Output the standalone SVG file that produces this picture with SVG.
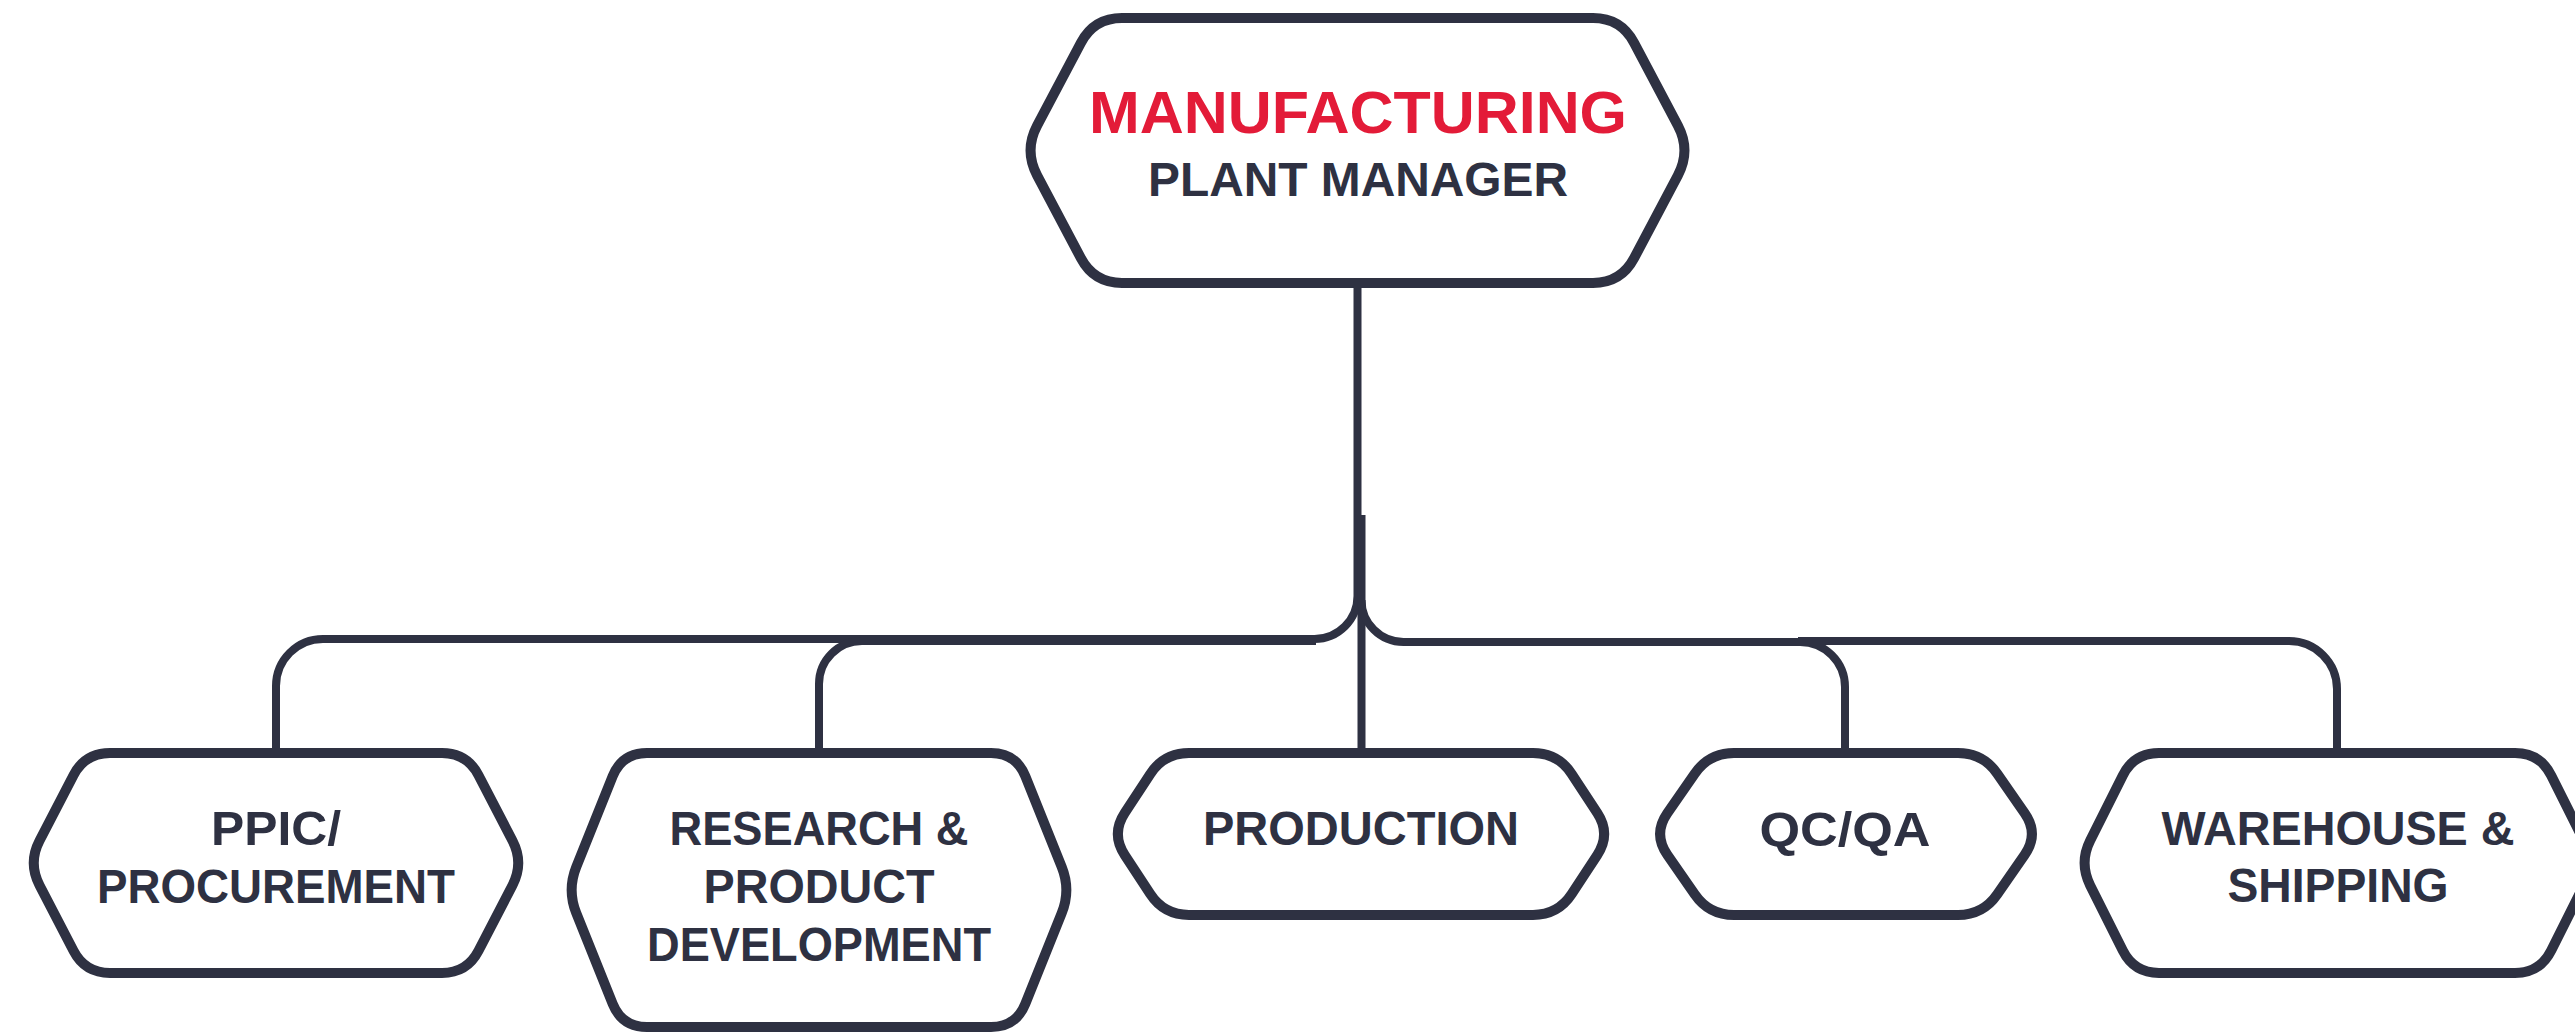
<svg xmlns="http://www.w3.org/2000/svg" width="2575" height="1032" viewBox="0 0 2575 1032">
<style>
.node{fill:#ffffff;stroke:#2E3142;stroke-width:10;stroke-linejoin:round}
.conn{fill:none;stroke:#2E3142;stroke-width:8}
.t{font-family:"Liberation Sans",Arial,sans-serif;font-weight:700;fill:#2E3142;text-anchor:middle}
.lbl{font-size:48px}
.red{fill:#E31B38;font-size:60px}
</style>
<rect x="0" y="0" width="2575" height="1032" fill="#ffffff"/>
<g id="connectors">
<path class="conn" d="M 1357.5 284 V 596 A 43 43 0 0 1 1314.5 639 H 323 A 47 47 0 0 0 276 686 V 753"/>
<path class="conn" d="M 1316 641 H 862 A 43 43 0 0 0 819 684 V 753"/>
<path class="conn" d="M 1361.5 515 V 753"/>
<path class="conn" d="M 1361.5 600 A 42 42 0 0 0 1403.5 642 H 1800 A 45 45 0 0 1 1845 687 V 753"/>
<path class="conn" d="M 1798 641 H 2289 A 48 48 0 0 1 2337 689 V 753"/>
</g>
<g id="node-plant-manager">
<path class="node" d="M 1122 18 H 1593 Q 1621 18 1634.1 42.8 L 1677.9 125.7 Q 1691 150.5 1677.9 175.3 L 1634.1 258.2 Q 1621 283 1593 283 H 1122 Q 1094 283 1080.9 258.2 L 1037.1 175.3 Q 1024 150.5 1037.1 125.7 L 1080.9 42.8 Q 1094 18 1122 18 Z"/>
<text class="t red" x="1358" y="133" textLength="538" lengthAdjust="spacingAndGlyphs">MANUFACTURING</text>
<text class="t lbl" x="1358" y="196" textLength="420" lengthAdjust="spacingAndGlyphs">PLANT MANAGER</text>
</g>
<g id="node-ppic">
<path class="node" d="M 110 753 H 442 Q 467 753 478.5 775.2 L 512.5 840.8 Q 524 863 512.5 885.2 L 478.5 950.8 Q 467 973 442 973 H 110 Q 85 973 73.5 950.8 L 39.5 885.2 Q 28 863 39.5 840.8 L 73.5 775.2 Q 85 753 110 753 Z"/>
<text class="t lbl" x="276" y="845" textLength="130" lengthAdjust="spacingAndGlyphs">PPIC/</text>
<text class="t lbl" x="276" y="903" textLength="358" lengthAdjust="spacingAndGlyphs">PROCUREMENT</text>
</g>
<g id="node-rnd">
<path class="node" d="M 647 753 H 991 Q 1016 753 1025.3 776.2 L 1061.7 866.8 Q 1071 890 1061.7 913.2 L 1025.3 1003.8 Q 1016 1027 991 1027 H 647 Q 622 1027 612.7 1003.8 L 576.3 913.2 Q 567 890 576.3 866.8 L 612.7 776.2 Q 622 753 647 753 Z"/>
<text class="t lbl" x="819" y="845" textLength="299" lengthAdjust="spacingAndGlyphs">RESEARCH &amp;</text>
<text class="t lbl" x="819" y="903" textLength="231" lengthAdjust="spacingAndGlyphs">PRODUCT</text>
<text class="t lbl" x="819" y="961" textLength="344" lengthAdjust="spacingAndGlyphs">DEVELOPMENT</text>
</g>
<g id="node-production">
<path class="node" d="M 1189 753 H 1533 Q 1558 753 1571.7 773.9 L 1597.3 813.1 Q 1611 834 1597.3 854.9 L 1571.7 894.1 Q 1558 915 1533 915 H 1189 Q 1164 915 1150.3 894.1 L 1124.7 854.9 Q 1111 834 1124.7 813.1 L 1150.3 773.9 Q 1164 753 1189 753 Z"/>
<text class="t lbl" x="1361" y="845" textLength="316" lengthAdjust="spacingAndGlyphs">PRODUCTION</text>
</g>
<g id="node-qcqa">
<path class="node" d="M 1734 753 H 1958 Q 1983 753 1997.2 773.6 L 2024.8 813.4 Q 2039 834 2024.8 854.6 L 1997.2 894.4 Q 1983 915 1958 915 H 1734 Q 1709 915 1694.8 894.4 L 1667.2 854.6 Q 1653 834 1667.2 813.4 L 1694.8 773.6 Q 1709 753 1734 753 Z"/>
<text class="t lbl" x="1845" y="846" textLength="171" lengthAdjust="spacingAndGlyphs">QC/QA</text>
</g>
<g id="node-warehouse">
<path class="node" d="M 2159 753 H 2515 Q 2540 753 2551.2 775.4 L 2583.8 840.6 Q 2595 863 2583.8 885.4 L 2551.2 950.6 Q 2540 973 2515 973 H 2159 Q 2134 973 2122.8 950.6 L 2090.2 885.4 Q 2079 863 2090.2 840.6 L 2122.8 775.4 Q 2134 753 2159 753 Z"/>
<text class="t lbl" x="2338" y="845" textLength="353" lengthAdjust="spacingAndGlyphs">WAREHOUSE &amp;</text>
<text class="t lbl" x="2338" y="902" textLength="221" lengthAdjust="spacingAndGlyphs">SHIPPING</text>
</g>
</svg>
